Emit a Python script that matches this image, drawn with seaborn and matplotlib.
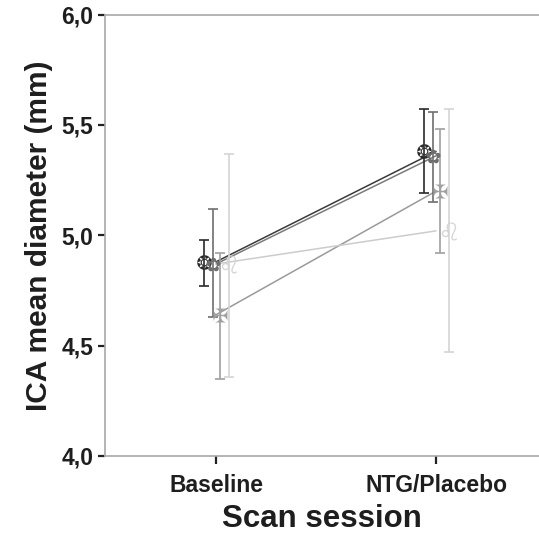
import matplotlib
matplotlib.use("Agg")
import matplotlib.pyplot as plt
import seaborn as sns
import pandas as pd
import numpy as np

sessions = ["Baseline", "NTG/Placebo"]
groups = ["Group 1", "Group 2", "Group 3", "Group 4"]

mean_g1 = [4.88, 5.38]
lo_g1 = [4.77, 5.19]
hi_g1 = [4.98, 5.57]

mean_g2 = [4.87, 5.36]
lo_g2 = [4.63, 5.15]
hi_g2 = [5.12, 5.56]

mean_g3 = [4.64, 5.20]
lo_g3 = [4.35, 4.92]
hi_g3 = [4.92, 5.48]

mean_g4 = [4.87, 5.02]
lo_g4 = [4.36, 4.47]
hi_g4 = [5.37, 5.57]

yticks = [4.0, 4.5, 5.0, 5.5, 6.0]
ytick_labels = ["4,0", "4,5", "5,0", "5,5", "6,0"]

means = [mean_g1, mean_g2, mean_g3, mean_g4]
los = [lo_g1, lo_g2, lo_g3, lo_g4]
his = [hi_g1, hi_g2, hi_g3, hi_g4]

bar_colors = ["#2a2a2a", "#6e6e6e", "#a0a0a0", "#d4d4d4"]
line_colors = ["#3a3a3a", "#7a7a7a", "#9a9a9a", "#cccccc"]
markers = ["$\u2742$", "$\u273F$", "$\u2720$", "$\u264C$"]
marker_sizes = [110, 100, 100, 170]
offsets = [-0.056, -0.015, 0.02, 0.058]

sns.set_theme(style="white")
plt.rcParams["font.family"] = ["Liberation Sans", "DejaVu Sans"]

fig = plt.figure(figsize=(5.39, 5.39), dpi=100)
ax = fig.add_axes([0.194, 0.154, 0.806, 0.819])

rows = []
for g, m in zip(groups, means):
    for i, s in enumerate(sessions):
        rows.append({"group": g, "pos": i, "session": s, "mean": m[i]})
df = pd.DataFrame(rows)

sns.lineplot(data=df, x="pos", y="mean", hue="group", palette=line_colors,
             legend=False, ax=ax, linewidth=1.1, estimator=None, sort=False)

for k in range(4):
    xs = np.arange(len(sessions)) + offsets[k]
    m = np.array(means[k]); lo = np.array(los[k]); hi = np.array(his[k])
    ax.errorbar(xs, m, yerr=[m - lo, hi - m], fmt="none", ecolor=bar_colors[k],
                elinewidth=1.2, capsize=3.5, capthick=1.2, zorder=3)
    ax.scatter(xs, m, marker=markers[k], s=marker_sizes[k], color=bar_colors[k],
               zorder=4, linewidths=0)

ax.set_xlim(-0.507, 1.468)
ax.set_ylim(4.0, 6.0)
ax.set_yticks(yticks)
ax.set_yticklabels(ytick_labels)
ax.set_xticks(range(len(sessions)))
ax.set_xticklabels(sessions)

for side in ["left", "top", "bottom"]:
    ax.spines[side].set_visible(True)
    ax.spines[side].set_color("#a8a8a8")
    ax.spines[side].set_linewidth(1.2)
ax.spines["right"].set_visible(False)

ax.tick_params(axis="both", which="both", direction="out", length=5, width=1.6,
               color="#222222", labelsize=16.5, labelcolor="#1e1e1e", pad=3)
ax.tick_params(axis="x", length=6, pad=7)
ax.tick_params(left=True, bottom=True)
for lab in ax.get_xticklabels() + ax.get_yticklabels():
    lab.set_fontweight("bold")

ax.set_xlabel("Scan session", fontsize=22.5, fontweight="bold", color="#1e1e1e", labelpad=5)
ax.set_ylabel("ICA mean diameter (mm)", fontsize=21.5, fontweight="bold", color="#1e1e1e", labelpad=6)
ax.grid(False)

fig.savefig("out.png", dpi=100, facecolor="white")
